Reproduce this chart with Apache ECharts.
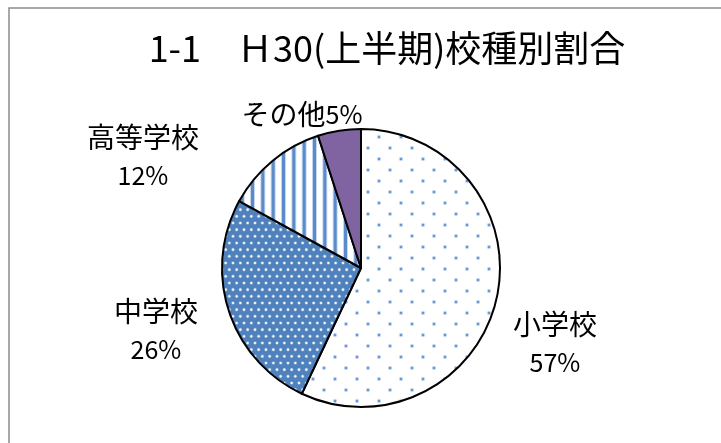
<!DOCTYPE html>
<html><head><meta charset="utf-8">
<script src="https://cdn.jsdelivr.net/npm/echarts@6/dist/echarts.min.js"></script>
<style>html,body{margin:0;padding:0;background:#fff}#c{width:721px;height:443px}</style>
</head><body><div id="c"></div>
<script>
const titleText = '1-1　Ｈ30(上半期)校種別割合';
const categories = ['小学校', '中学校', '高等学校', 'その他'];
const values = [57, 26, 12, 5];

function makeCanvas(w, h, draw) {
  const c = document.createElement('canvas');
  c.width = w; c.height = h;
  const g = c.getContext('2d');
  draw(g, w, h);
  return c;
}
function dot(g, x, y, r, color) {
  g.fillStyle = color;
  g.beginPath(); g.arc(x, y, r, 0, Math.PI * 2); g.fill();
}
// 小学校: white with sparse staggered blue dots
const patSmall = makeCanvas(22, 22, (g, w, h) => {
  g.fillStyle = '#ffffff'; g.fillRect(0, 0, w, h);
  [[5, 5], [16, 16]].forEach(p => {
    dot(g, p[0], p[1], 2.2, 'rgba(120,160,220,0.35)');
    dot(g, p[0], p[1], 1.3, '#6a98d4');
  });
});
// 中学校: blue with white staggered dots
const patMid = makeCanvas(22, 40, (g, w, h) => {
  g.fillStyle = '#4f81bd'; g.fillRect(0, 0, w, h);
  const dx = 22 / 3, dy = 40 / 6;
  for (let r = 0; r < 6; r++) {
    for (let k = -1; k < 4; k++) {
      const x = k * dx + (r % 2 ? dx / 2 : 0) + 2;
      const y = r * dy + 3;
      dot(g, x, y, 1.8, 'rgba(255,255,255,0.35)');
      dot(g, x, y, 1.1, '#ffffff');
    }
  }
});
// 高等学校: white with vertical blue stripes
const patHigh = makeCanvas(31, 4, (g, w, h) => {
  g.fillStyle = '#ffffff'; g.fillRect(0, 0, w, h);
  for (let k = 0; k < 3; k++) {
    const x = k * (31 / 3) + 3;
    g.fillStyle = 'rgba(91,139,203,0.35)'; g.fillRect(x - 1, 0, 5, h);
    g.fillStyle = '#5b8bcb'; g.fillRect(x, 0, 3, h);
  }
});

const fills = [
  { image: patSmall, repeat: 'repeat' },
  { image: patMid, repeat: 'repeat' },
  { image: patHigh, repeat: 'repeat' },
  '#8064a2'
];
// label anchor centres (layout only)
const labelAnchors = [[555, 343], [156, 330], [143, 156], [302, 114]];

const chart = echarts.init(document.getElementById('c'), null, { renderer: 'canvas' });
chart.setOption({
  backgroundColor: '#ffffff',
  animation: false,
  graphic: [
    { type: 'rect', shape: { x: 9, y: 8, width: 760, height: 500 }, style: { fill: 'none', stroke: '#8c8c8c', lineWidth: 1.5 }, silent: true },
    { type: 'text', x: 387, y: 48, style: { text: titleText, font: '36px "Noto Sans CJK JP"', fill: '#000', textAlign: 'center', textVerticalAlign: 'middle' } }
  ],
  series: [{
    type: 'pie',
    center: [361, 268],
    radius: [0, 139],
    startAngle: 90,
    clockwise: true,
    avoidLabelOverlap: false,
    itemStyle: { borderColor: '#000', borderWidth: 2 },
    labelLine: { show: false },
    label: {
      show: true,
      position: 'outside',
      color: '#000',
      fontFamily: '"Noto Sans CJK JP"',
      formatter: p => p.dataIndex === 3
        ? '{n|' + p.name + '}{p|' + Math.round(p.percent) + '%}'
        : '{n|' + p.name + '}\n{p|' + Math.round(p.percent) + '%}',
      rich: {
        n: { fontSize: 28, lineHeight: 38, fontFamily: '"Noto Sans CJK JP"', color: '#000' },
        p: { fontSize: 25, lineHeight: 38, fontFamily: '"Noto Sans CJK JP"', color: '#000' }
      }
    },
    labelLayout: params => {
      const a = labelAnchors[params.dataIndex];
      return { x: a[0], y: a[1], align: 'center', verticalAlign: 'middle' };
    },
    data: categories.map((c, i) => ({ name: c, value: values[i], itemStyle: { color: fills[i] } }))
  }]
});
</script></body></html>
